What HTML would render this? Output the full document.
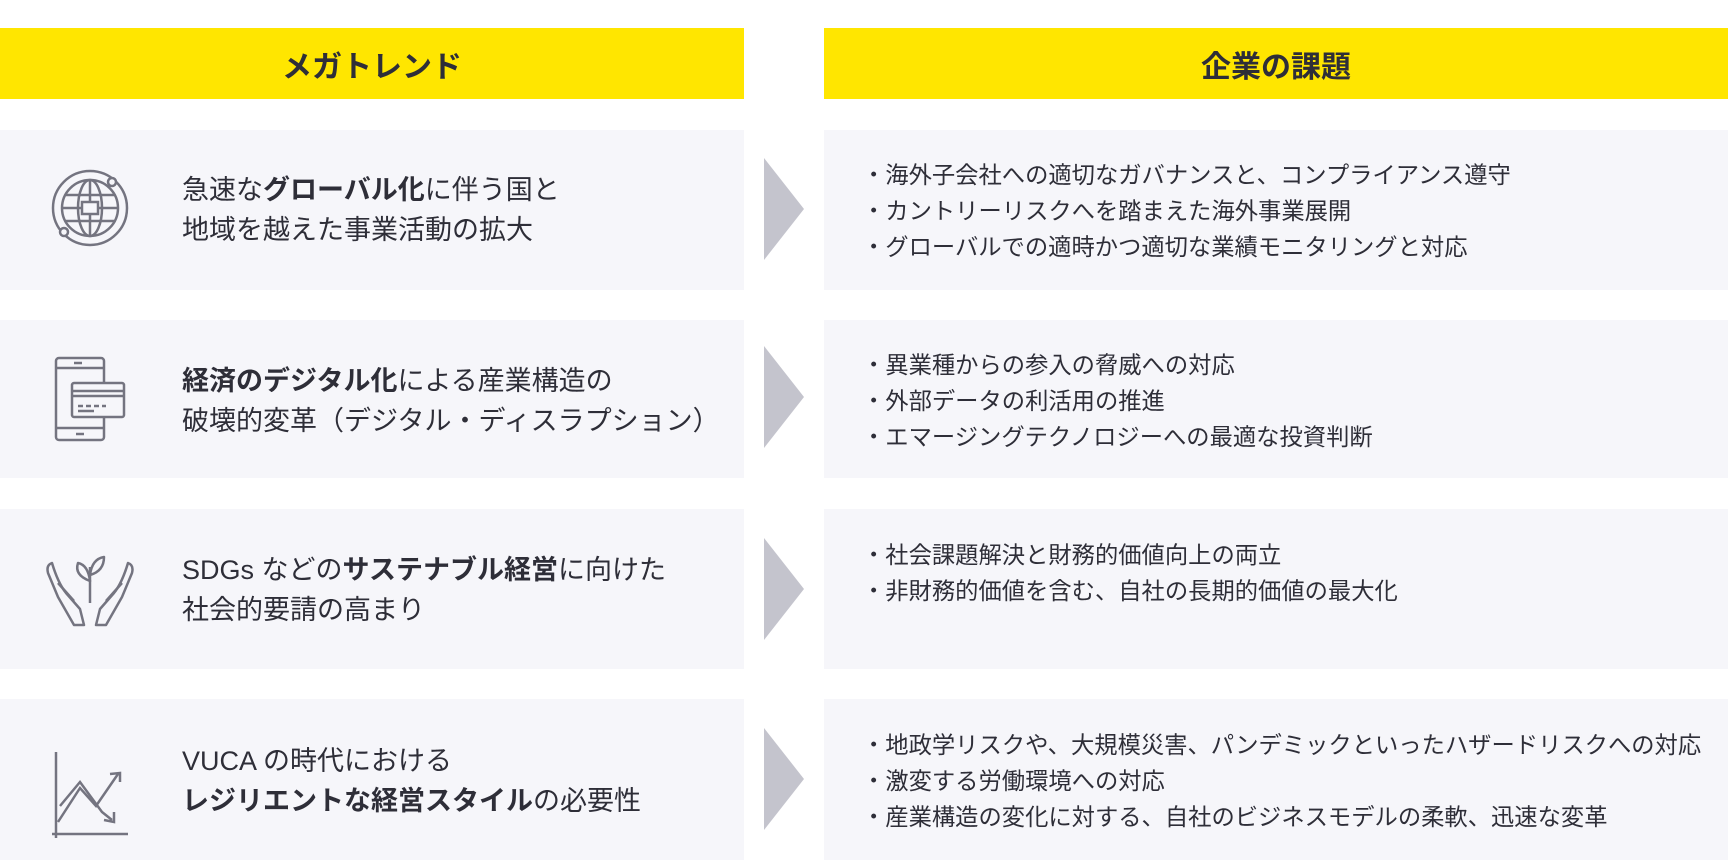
<!DOCTYPE html>
<html><head><meta charset="utf-8"><style>
body{margin:0;width:1728px;height:860px;background:#fff;position:relative;overflow:hidden;font-family:"Liberation Sans","Noto Sans CJK JP",sans-serif;color:#2e2e38}
.hd{position:absolute;top:28px;height:71px;background:#ffe600;font-weight:bold;font-size:30px;display:flex;align-items:center;justify-content:center}
.box{position:absolute;background:#f6f6fa}
.l{left:0;width:744px}.r{left:824px;width:904px}
.lt{position:absolute;left:182px;font-size:27px;line-height:40px;white-space:nowrap}
.rt{position:absolute;left:862px;font-size:23.3px;line-height:36px;white-space:nowrap}
.arr{position:absolute;left:764px;width:0;height:0;border-top:51px solid transparent;border-bottom:51px solid transparent;border-left:40px solid #c4c4cd}
b{font-weight:bold}
svg{position:absolute}
</style></head><body>
<div class="hd" style="left:0;width:744px">メガトレンド</div>
<div class="hd" style="left:824px;width:904px">企業の課題</div>

<div class="box l" style="top:130px;height:160px"></div>
<div class="box r" style="top:130px;height:160px"></div>
<div class="box l" style="top:320px;height:158px"></div>
<div class="box r" style="top:320px;height:158px"></div>
<div class="box l" style="top:509px;height:160px"></div>
<div class="box r" style="top:509px;height:160px"></div>
<div class="box l" style="top:699px;height:161px"></div>
<div class="box r" style="top:699px;height:161px"></div>

<div class="arr" style="top:158px"></div>
<div class="arr" style="top:346px"></div>
<div class="arr" style="top:538px"></div>
<div class="arr" style="top:728px"></div>

<svg style="left:50px;top:168px" width="80" height="80" viewBox="0 0 80 80" fill="none" stroke="#747480" stroke-width="2.5">
<circle cx="40" cy="40" r="37"/><circle cx="40" cy="40" r="28"/><ellipse cx="40" cy="40" rx="12" ry="28"/><line x1="40" y1="12" x2="40" y2="68"/><line x1="12" y1="40" x2="68" y2="40"/><line x1="16" y1="27" x2="64" y2="27"/><line x1="16" y1="53" x2="64" y2="53"/><rect x="32" y="34" width="16" height="12" fill="#f6f6fa"/><circle cx="62" cy="14" r="4" fill="#f6f6fa"/><circle cx="14" cy="64" r="4" fill="#f6f6fa"/>
</svg>
<div class="lt" style="top:170px">急速な<b>グローバル化</b>に伴う国と<br>地域を越えた事業活動の拡大</div>
<div class="rt" style="top:157px">・海外子会社への適切なガバナンスと、コンプライアンス遵守<br>・カントリーリスクへを踏まえた海外事業展開<br>・グローバルでの適時かつ適切な業績モニタリングと対応</div>

<svg style="left:54px;top:356px" width="74" height="86" viewBox="0 0 74 86" fill="none" stroke="#747480" stroke-width="2.5">
<rect x="2" y="2" width="48" height="82" rx="3"/><line x1="2" y1="12" x2="50" y2="12"/><line x1="2" y1="72" x2="50" y2="72"/><line x1="20" y1="7" x2="28" y2="7"/><line x1="22" y1="78" x2="30" y2="78"/>
<rect x="18" y="27" width="52" height="34" rx="2" fill="#f6f6fa"/><line x1="18" y1="35" x2="70" y2="35"/><line x1="18" y1="40" x2="70" y2="40"/><line x1="24" y1="50" x2="52" y2="50" stroke-dasharray="5 3"/><line x1="24" y1="55" x2="40" y2="55"/>
</svg>
<div class="lt" style="top:361px"><b>経済のデジタル化</b>による産業構造の<br>破壊的変革（デジタル・ディスラプション）</div>
<div class="rt" style="top:347px">・異業種からの参入の脅威への対応<br>・外部データの利活用の推進<br>・エマージングテクノロジーへの最適な投資判断</div>

<svg style="left:44px;top:553px" width="92" height="74" viewBox="0 0 92 74" fill="none" stroke="#747480" stroke-width="2.5" stroke-linejoin="round">
<path d="M8 10 Q2 12 4 20 L14 44 L30 72 L40 72 L36 56 L22 40 Q14 30 8 10 Z"/><path d="M14 30 L30 48"/>
<path d="M84 10 Q90 12 88 20 L78 44 L62 72 L52 72 L56 56 L70 40 Q78 30 84 10 Z"/><path d="M78 30 L62 48"/>
<line x1="46" y1="14" x2="46" y2="50"/><path d="M46 28 Q30 22 34 10 Q44 12 46 28 Z"/><path d="M46 22 Q60 18 60 4 Q48 6 46 22 Z"/>
</svg>
<div class="lt" style="top:550px">SDGs などの<b>サステナブル経営</b>に向けた<br>社会的要請の高まり</div>
<div class="rt" style="top:537px">・社会課題解決と財務的価値向上の両立<br>・非財務的価値を含む、自社の長期的価値の最大化</div>

<svg style="left:50px;top:748px" width="80" height="94" viewBox="0 0 80 94" fill="none" stroke="#747480" stroke-width="2.5">
<line x1="6" y1="4" x2="6" y2="90"/><line x1="2" y1="86" x2="78" y2="86"/><path d="M8 74 L30 40 L46 58 L68 26"/><path d="M60 26 L70 25 L70 34"/><path d="M10 58 L30 34 L52 64 L62 72"/><path d="M54 72 L64 74 L64 64"/>
</svg>
<div class="lt" style="top:741px">VUCA の時代における<br><b>レジリエントな経営スタイル</b>の必要性</div>
<div class="rt" style="top:727px">・地政学リスクや、大規模災害、パンデミックといったハザードリスクへの対応<br>・激変する労働環境への対応<br>・産業構造の変化に対する、自社のビジネスモデルの柔軟、迅速な変革</div>
</body></html>
